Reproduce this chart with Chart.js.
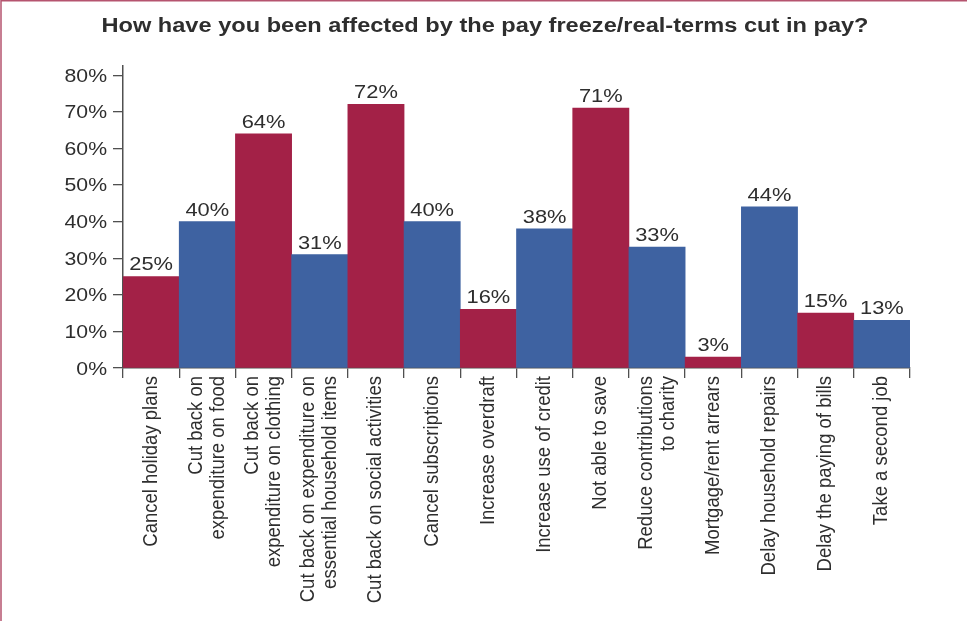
<!DOCTYPE html>
<html>
<head>
<meta charset="utf-8">
<script src="https://cdn.jsdelivr.net/npm/chart.js@4/dist/chart.umd.min.js"></script>
<style>
  html, body { margin: 0; padding: 0; background: #fff; overflow: hidden; }
  #wrap { position: relative; width: 967px; height: 621px; }
</style>
</head>
<body>
<div id="wrap"><canvas id="chart" width="967" height="621"></canvas></div>
<script>
// Survey answers: share of respondents reporting each effect
const title = 'How have you been affected by the pay freeze/real-terms cut in pay?';

const categories = [
  ['Cancel holiday plans'],
  ['Cut back on', 'expenditure on food'],
  ['Cut back on', 'expenditure on clothing'],
  ['Cut back on expenditure on', 'essential household items'],
  ['Cut back on social activities'],
  ['Cancel subscriptions'],
  ['Increase overdraft'],
  ['Increase use of credit'],
  ['Not able to save'],
  ['Reduce contributions', 'to charity'],
  ['Mortgage/rent arrears'],
  ['Delay household repairs'],
  ['Delay the paying of bills'],
  ['Take a second job']
];

const values = [25, 40, 64, 31, 72, 40, 16, 38, 71, 33, 3, 44, 15, 13];

const yTicks = [0, 10, 20, 30, 40, 50, 60, 70, 80];

const RED = '#a32147';
const BLUE = '#3e62a1';
const TEXT = '#2e2e2e';
const AXIS = '#505050';
const FRAME = '#b5546f';
const FONT = '"Liberation Sans", Arial, Helvetica, sans-serif';

const barColors = values.map((v, i) => (i % 2 === 0 ? RED : BLUE));

// draw a string with an optional horizontal stretch
function putText(ctx, str, x, y, font, align, baseline, sx, rotate) {
  ctx.save();
  ctx.translate(x, y);
  ctx.scale(sx, 1);
  if (rotate) ctx.rotate(rotate);
  ctx.font = font;
  ctx.fillStyle = TEXT;
  ctx.textAlign = align;
  ctx.textBaseline = baseline;
  ctx.fillText(str, 0, 0);
  ctx.restore();
}

const decorations = {
  id: 'decorations',
  beforeDraw(chart) {
    const ctx = chart.ctx;
    ctx.save();
    ctx.fillStyle = '#fff';
    ctx.fillRect(0, 0, chart.width, chart.height);
    // frame on top and left edges
    ctx.strokeStyle = FRAME;
    ctx.lineWidth = 1.5;
    ctx.beginPath();
    ctx.moveTo(1, chart.height);
    ctx.lineTo(1, 0.75);
    ctx.lineTo(chart.width, 0.75);
    ctx.stroke();
    ctx.restore();
  },
  afterDraw(chart) {
    const ctx = chart.ctx;
    const xs = chart.scales.x;
    const ys = chart.scales.y;

    // title
    putText(ctx, title, 485, 32, 'bold 19.5px ' + FONT, 'center', 'alphabetic', 1.21);

    // y tick labels
    ys.ticks.forEach(t => {
      const y = ys.getPixelForValue(t.value);
      putText(ctx, t.value + '%', 107, y + 6.5, '17.7px ' + FONT, 'right', 'alphabetic', 1.2);
    });

    // category labels, rotated, ending just under the axis
    categories.forEach((lines, i) => {
      const cx = xs.getPixelForValue(i);
      const gap = 22;
      lines.forEach((line, j) => {
        const off = (j - (lines.length - 1) / 2) * gap;
        putText(ctx, line, cx + off, 376, '18.5px ' + FONT, 'right', 'middle', 1.08, -Math.PI / 2);
      });
    });

    // value labels above bars
    const meta = chart.getDatasetMeta(0);
    meta.data.forEach((bar, i) => {
      putText(ctx, values[i] + '%', bar.x, bar.y - 6, '19px ' + FONT, 'center', 'alphabetic', 1.15);
    });
  }
};

new Chart(document.getElementById('chart'), {
  type: 'bar',
  data: {
    labels: categories,
    datasets: [{
      data: values,
      backgroundColor: barColors,
      borderWidth: 0,
      barPercentage: 1,
      categoryPercentage: 1
    }]
  },
  options: {
    responsive: false,
    animation: false,
    devicePixelRatio: 1,
    layout: { padding: { top: 66, left: 0, right: 57, bottom: 0 } },
    plugins: {
      legend: { display: false },
      tooltip: { enabled: false },
      title: { display: false }
    },
    scales: {
      x: {
        grid: { display: true, drawOnChartArea: false, drawTicks: true, tickLength: 10, color: AXIS, lineWidth: 1.3, offset: true },
        border: { display: true, color: AXIS, width: 1.5 },
        ticks: { display: false, autoSkip: false },
        afterFit(s) { s.height = 253; }
      },
      y: {
        min: 0,
        max: 82.5,
        grid: { display: true, drawOnChartArea: false, drawTicks: true, tickLength: 10, color: AXIS, lineWidth: 1.3 },
        border: { display: true, color: AXIS, width: 1.5 },
        ticks: { display: false },
        afterBuildTicks(s) { s.ticks = yTicks.map(v => ({ value: v })); },
        afterFit(s) { s.width = 123; }
      }
    }
  },
  plugins: [decorations]
});
</script>
</body>
</html>
